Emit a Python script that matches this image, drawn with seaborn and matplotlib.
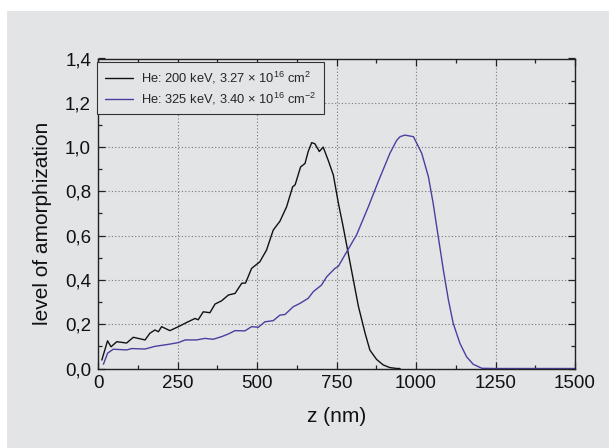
import matplotlib
matplotlib.use('Agg')
import matplotlib.pyplot as plt
import seaborn as sns
import pandas as pd
from matplotlib.ticker import MultipleLocator, FuncFormatter
from matplotlib.patches import Rectangle

# depth (nm) and level of amorphization
z_he200 = [12, 30, 41, 59, 90, 111, 148, 163, 179, 190, 200, 226, 253, 279, 305, 315,
           331, 352, 368, 389, 410, 431, 452, 464, 483, 509, 530, 551, 572, 593, 612,
           620, 637, 651, 661, 672, 682, 696, 708, 724, 740, 756, 771, 787, 803, 819,
           840, 855, 876, 897, 918, 940, 950]
amor_he200 = [0.038, 0.125, 0.098, 0.121, 0.115, 0.141, 0.129, 0.159, 0.174, 0.166, 0.189,
              0.171, 0.189, 0.208, 0.226, 0.22, 0.256, 0.252, 0.291, 0.306, 0.332, 0.339,
              0.385, 0.386, 0.452, 0.482, 0.535, 0.625, 0.665, 0.73, 0.82, 0.83, 0.91,
              0.926, 0.98, 1.02, 1.015, 0.98, 1.0, 0.94, 0.874, 0.746, 0.64, 0.52, 0.40,
              0.28, 0.159, 0.083, 0.041, 0.016, 0.004, 0.0, 0.0]

z_he325 = [17, 30, 48, 90, 106, 148, 179, 221, 253, 274, 310, 336, 362, 389, 410, 431,
           462, 483, 504, 525, 551, 572, 588, 614, 635, 661, 677, 703, 719, 745, 756,
           782, 813, 850, 881, 918, 939, 950, 965, 992, 1018, 1039, 1054, 1070, 1086,
           1102, 1117, 1138, 1159, 1180, 1207, 1250, 1500]
amor_he325 = [0.019, 0.069, 0.087, 0.084, 0.09, 0.088, 0.10, 0.109, 0.117, 0.129, 0.129,
              0.136, 0.132, 0.144, 0.156, 0.171, 0.17, 0.189, 0.186, 0.211, 0.216, 0.241,
              0.244, 0.279, 0.294, 0.317, 0.347, 0.377, 0.414, 0.452, 0.462, 0.527, 0.603,
              0.73, 0.843, 0.972, 1.03, 1.047, 1.054, 1.047, 0.972, 0.866, 0.746, 0.595,
              0.445, 0.309, 0.204, 0.114, 0.053, 0.019, 0.001, 0.0, 0.0]

label_200 = 'He: 200 keV, 3.27 × 10$^{16}$ cm$^{2}$'
label_325 = 'He: 325 keV, 3.40 × 10$^{16}$ cm$^{-2}$'

bg = '#e3e4e6'

if __name__ == '__main__':
    sns.set_style('ticks')
    plt.rcParams['font.family'] = ['Liberation Sans', 'DejaVu Sans']
    plt.rcParams['mathtext.fontset'] = 'custom'
    plt.rcParams['mathtext.rm'] = 'Liberation Sans'
    plt.rcParams['mathtext.it'] = 'Liberation Sans:italic'
    plt.rcParams['mathtext.bf'] = 'Liberation Sans:bold'

    fig = plt.figure(figsize=(6.09, 4.48), dpi=100, facecolor='white')
    fig.patches.append(Rectangle((7 / 609, 0), 1, (448 - 11) / 448, transform=fig.transFigure,
                                 facecolor=bg, edgecolor='none', zorder=-10))
    ax = fig.add_axes([98 / 609, (448 - 368.5) / 448, 477 / 609, 310 / 448])
    ax.set_facecolor(bg)

    df200 = pd.DataFrame({'z': z_he200, 'level': amor_he200})
    df325 = pd.DataFrame({'z': z_he325, 'level': amor_he325})
    sns.lineplot(data=df200, x='z', y='level', ax=ax, color='#111111', lw=1.0, label=label_200)
    sns.lineplot(data=df325, x='z', y='level', ax=ax, color='#4a3fa0', lw=1.0, label=label_325)

    ax.set_xlim(0, 1500)
    ax.set_ylim(0, 1.4)
    ax.xaxis.set_major_locator(MultipleLocator(250))
    ax.xaxis.set_minor_locator(MultipleLocator(125))
    ax.yaxis.set_major_locator(MultipleLocator(0.2))
    ax.yaxis.set_minor_locator(MultipleLocator(0.1))
    ax.yaxis.set_major_formatter(FuncFormatter(lambda v, p: f'{v:.1f}'.replace('.', ',')))
    ax.tick_params(which='both', direction='in', top=True, right=True, color='#222222',
                   labelsize=13.5, labelcolor='#111111')
    ax.tick_params(which='major', length=5, width=0.9)
    ax.tick_params(which='minor', length=3, width=0.9)
    ax.tick_params(axis='x', pad=4.5)
    ax.tick_params(axis='y', pad=5)
    for s in ax.spines.values():
        s.set_color('#222222')
        s.set_linewidth(1.0)

    ax.grid(True, which='major', linestyle=(0, (1, 2)), color='#777777', linewidth=0.8)

    ax.set_xlabel('z (nm)', fontsize=15, color='#111111')
    ax.set_ylabel('level of amorphization', fontsize=15, color='#111111')
    ax.xaxis.set_label_coords(0.5, -0.124)
    ax.yaxis.set_label_coords(-0.096, 0.469)

    leg = ax.legend(loc='upper left', bbox_to_anchor=(-0.002, 0.989), borderaxespad=0,
                    fontsize=9.3, frameon=True, fancybox=False, framealpha=1,
                    facecolor=bg, edgecolor='#333333', handlelength=2.2,
                    handletextpad=0.6, borderpad=0.6, labelspacing=0.35)
    leg.get_frame().set_linewidth(0.8)

    fig.savefig('out.png', dpi=100, facecolor=fig.get_facecolor())
